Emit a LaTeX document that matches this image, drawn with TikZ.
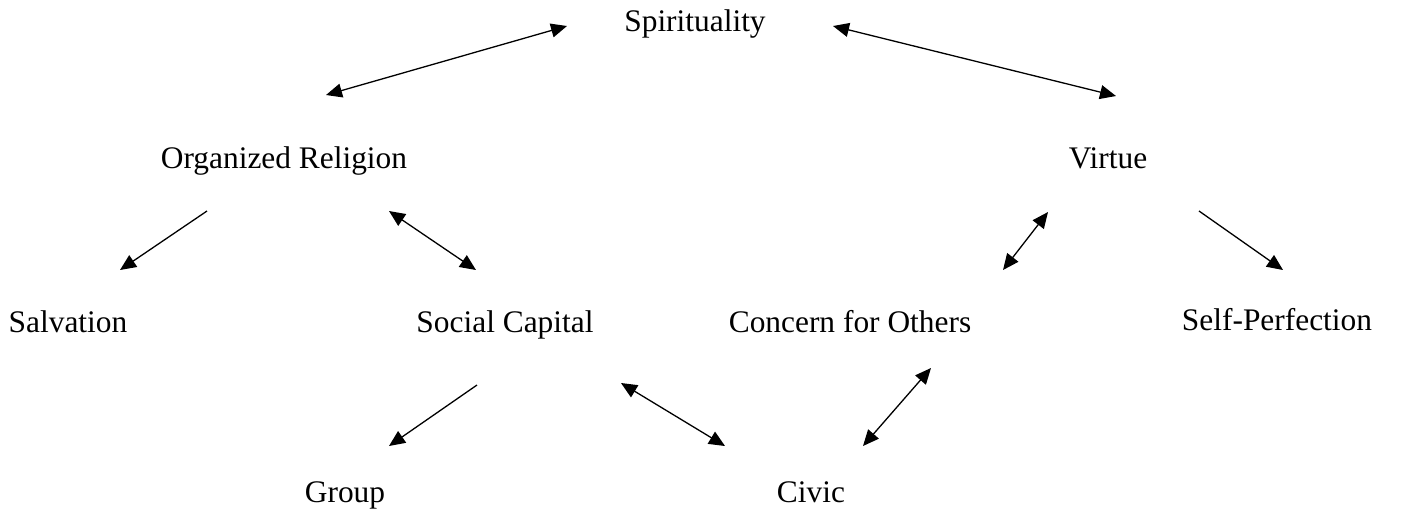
\documentclass[tikz,border=0pt]{standalone}
\usepackage{fontspec}
\setmainfont{Liberation Serif}
\usetikzlibrary{arrows.meta}
\tikzset{
  lbl/.style={anchor=base, inner sep=0pt, font=\fontsize{15.7pt}{18pt}\selectfont},
  tip/.tip={Triangle[length=8pt,width=7pt]},
  conn/.style={line width=0.65pt, -tip},
  biconn/.style={line width=0.65pt, tip-tip}
}
\begin{document}
\begin{tikzpicture}[x=0.5pt,y=-0.5pt]
\useasboundingbox (0,0) rectangle (1412,511);
\node[lbl] (spir) at (695,31) {Spirituality};
\node[lbl] (org) at (284,168) {Organized Religion};
\node[lbl] (vir) at (1108,168) {Virtue};
\node[lbl] (salv) at (68,332) {Salvation};
\node[lbl] (soc) at (505,332) {Social Capital};
\node[lbl] (conc) at (850,332) {Concern for Others};
\node[lbl] (self) at (1277,330) {Self-Perfection};
\node[lbl] (grp) at (345,502) {Group};
\node[lbl] (civ) at (811,502) {Civic};
% connector ends
\coordinate (a1s) at (326,95);   \coordinate (a1e) at (567,26);
\coordinate (a2s) at (833,26);   \coordinate (a2e) at (1116,96);
\coordinate (a3s) at (207,211);  \coordinate (a3e) at (120,270);
\coordinate (a4s) at (389,211);  \coordinate (a4e) at (476,270);
\coordinate (a5s) at (1048,212); \coordinate (a5e) at (1003,270);
\coordinate (a6s) at (1199,211); \coordinate (a6e) at (1283,270);
\coordinate (a7s) at (477,385);  \coordinate (a7e) at (389,446);
\coordinate (a8s) at (621,383);  \coordinate (a8e) at (725,446);
\coordinate (a9s) at (931,368);  \coordinate (a9e) at (863,446);
\draw[biconn] (a1s) -- (a1e);
\draw[biconn] (a2s) -- (a2e);
\draw[conn] (a3s) -- (a3e);
\draw[biconn] (a4s) -- (a4e);
\draw[biconn] (a5s) -- (a5e);
\draw[conn] (a6s) -- (a6e);
\draw[conn] (a7s) -- (a7e);
\draw[biconn] (a8s) -- (a8e);
\draw[biconn] (a9s) -- (a9e);
\end{tikzpicture}
\end{document}
